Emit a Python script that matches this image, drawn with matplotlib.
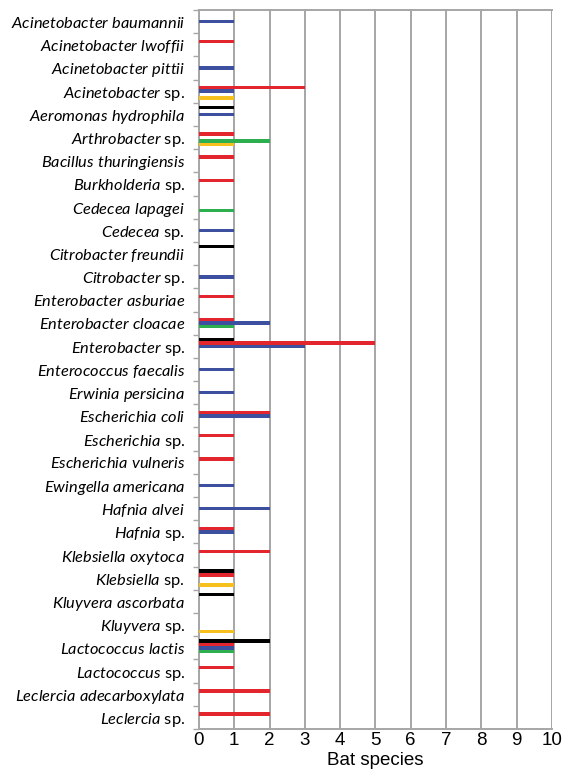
import numpy as np
import matplotlib
matplotlib.use("Agg")
import matplotlib.pyplot as plt

# ------------------ DATA ------------------ #
bacteria = [
    ("Acinetobacter baumannii", False), ("Acinetobacter lwoffii", False),
    ("Acinetobacter pittii", False), ("Acinetobacter", True),
    ("Aeromonas hydrophila", False), ("Arthrobacter", True),
    ("Bacillus thuringiensis", False), ("Burkholderia", True),
    ("Cedecea lapagei", False), ("Cedecea", True),
    ("Citrobacter freundii", False), ("Citrobacter", True),
    ("Enterobacter asburiae", False), ("Enterobacter cloacae", False),
    ("Enterobacter", True), ("Enterococcus faecalis", False),
    ("Erwinia persicina", False), ("Escherichia coli", False),
    ("Escherichia", True), ("Escherichia vulneris", False),
    ("Ewingella americana", False), ("Hafnia alvei", False),
    ("Hafnia", True), ("Klebsiella oxytoca", False),
    ("Klebsiella", True), ("Kluyvera ascorbata", False),
    ("Kluyvera", True), ("Lactococcus lactis", False),
    ("Lactococcus", True), ("Leclercia adecarboxylata", False),
    ("Leclercia", True),
]

# bat species counts per bacterium, one list per group
black  = [0, 0, 0, 0, 1, 0, 0, 0, 0, 0, 1, 0, 0, 0, 1, 0, 0, 0, 0, 0, 0, 0, 0, 0, 1, 1, 0, 2, 0, 0, 0]
red    = [0, 1, 0, 3, 0, 1, 1, 1, 0, 0, 0, 0, 1, 1, 5, 0, 0, 2, 1, 1, 0, 0, 1, 2, 1, 0, 0, 1, 1, 2, 2]
blue   = [1, 0, 1, 1, 1, 0, 0, 0, 0, 1, 0, 1, 0, 2, 3, 1, 1, 2, 0, 0, 1, 2, 1, 0, 0, 0, 0, 1, 0, 0, 0]
green  = [0, 0, 0, 0, 0, 2, 0, 0, 1, 0, 0, 0, 0, 1, 0, 0, 0, 0, 0, 0, 0, 0, 0, 0, 0, 0, 0, 1, 0, 0, 0]
yellow = [0, 0, 0, 1, 0, 1, 0, 0, 0, 0, 0, 0, 0, 0, 0, 0, 0, 0, 0, 0, 0, 0, 0, 0, 1, 0, 1, 0, 0, 0, 0]

x_ticks = list(range(0, 11))
# ------------------------------------------ #

plt.rcParams["mathtext.fontset"] = "custom"
plt.rcParams["mathtext.it"] = "Lato:italic"
plt.rcParams["mathtext.rm"] = "Lato"

def label_for(name, genus_only):
    it = r"$\mathit{" + name.replace(" ", r"\ ") + "}$"
    return it + " sp." if genus_only else it

labels = [label_for(n, g) for n, g in bacteria]
y = np.arange(len(bacteria))

fig = plt.figure(figsize=(5.62, 7.69), dpi=100)
ax = fig.add_axes([0.354, 0.052, 0.628, 0.935])

series = [
    (black, "#000000"),
    (red, "#E3262D"),
    (blue, "#3D4F9F"),
    (green, "#2DAE4F"),
    (yellow, "#F6C01E"),
]
h = 0.155
for i, (vals, col) in enumerate(series):
    off = (i - 2) * 0.15
    v = np.array(vals, dtype=float)
    m = v > 0
    ax.barh(y[m] + off, v[m], height=h, color=col, linewidth=0, zorder=3)

ax.set_xlim(0, 10)
ax.set_ylim(len(bacteria) - 0.5, -0.5)
ax.set_xticks(x_ticks)
ax.set_xticklabels([str(t) for t in x_ticks], fontsize=13.5, family="Liberation Sans")
ax.set_xlabel("Bat species", fontsize=13.5, family="Liberation Sans", va="center")
ax.xaxis.set_label_coords(0.5, -31.0 / 719)
ax.grid(axis="x", color="#A6A6A6", linewidth=1.4, zorder=0)
ax.tick_params(axis="x", length=0, pad=2)

ax.set_yticks(y)
ax.set_yticklabels(labels, fontsize=11.8, family="Lato")
ax.set_yticks(np.arange(-0.5, len(bacteria)), minor=True)
ax.tick_params(axis="y", which="major", length=0, pad=10)
ax.tick_params(axis="y", which="minor", length=4, width=1, color="#A6A6A6")

for s in ax.spines.values():
    s.set_color("#A6A6A6")
    s.set_linewidth(1.4)
ax.spines["right"].set_visible(False)

fig.savefig("out.png", dpi=100)
